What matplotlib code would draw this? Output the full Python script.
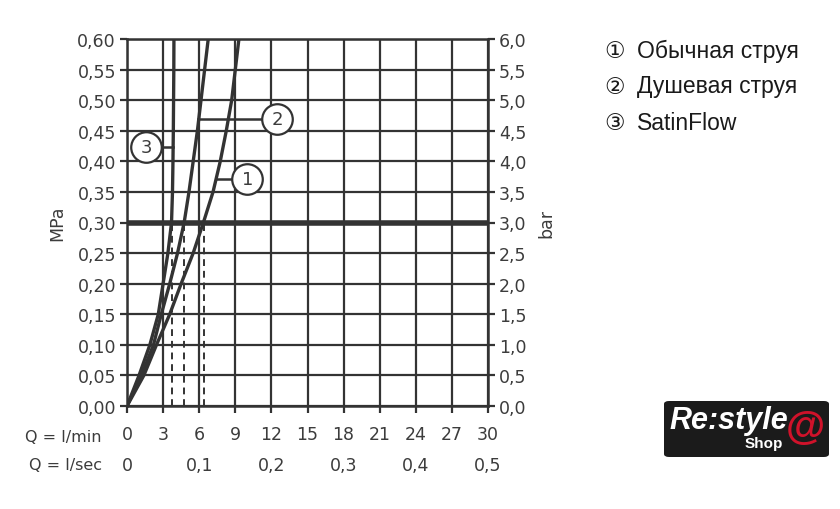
import matplotlib
matplotlib.use("Agg")
import matplotlib.pyplot as plt
from matplotlib.patches import FancyBboxPatch
import matplotlib.transforms as mtransforms

# pressure points (MPa) and flow (l/min)
pressure = [0.00, 0.05, 0.10, 0.15, 0.20, 0.25, 0.30, 0.35, 0.40, 0.45, 0.50, 0.55, 0.60]
flow_normal = [0.0, 1.4, 2.45, 3.55, 4.5, 5.5, 6.35, 7.15, 7.75, 8.25, 8.7, 9.0, 9.3]
flow_shower = [0.0, 1.2, 2.2, 2.85, 3.55, 4.2, 4.75, 5.15, 5.5, 5.85, 6.15, 6.45, 6.75]
flow_satin = [0.0, 1.0, 1.9, 2.6, 3.0, 3.4, 3.7, 3.78, 3.82, 3.85, 3.87, 3.89, 3.9]

ref_pressure = 0.30
ref_flows = [3.75, 4.7, 6.4]

lmin_ticks = [0, 3, 6, 9, 12, 15, 18, 21, 24, 27, 30]
lsec_ticks = [0, 6, 12, 18, 24, 30]
lsec_labels = ["0", "0,1", "0,2", "0,3", "0,4", "0,5"]
mpa_ticks = [i * 0.05 for i in range(13)]
bar_ticks = [i * 0.5 for i in range(13)]

legend_marks = ["①", "②", "③"]
legend_items = ["Обычная струя", "Душевая струя", "SatinFlow"]

# callouts: (number, circle x, circle y, line start x, line end x)
callouts = [
    ("1", 10.0, 0.371, 7.5, 10.0),
    ("2", 12.5, 0.470, 5.9, 12.5),
    ("3", 1.6, 0.423, 1.6, 3.85),
]

dark = "#333333"
txt = "#3c3c3c"

fig = plt.figure(figsize=(8.4, 5.1), dpi=100)
ax = fig.add_axes([127 / 840, 1 - 407 / 510, (488 - 127) / 840, (407 - 40) / 510])

ax.set_xlim(0, 30)
ax.set_ylim(0, 0.60)
ax.set_xticks(lmin_ticks)
ax.set_yticks(mpa_ticks)
ax.grid(True, color=dark, linewidth=1.6)
for s in ax.spines.values():
    s.set_color(dark)
    s.set_linewidth(1.8)

ax.set_yticklabels([f"{v:.2f}".replace(".", ",") for v in mpa_ticks])
ax.set_xticklabels([str(v) for v in lmin_ticks])
ax.tick_params(axis="both", colors=dark, length=5, width=1.6, labelcolor=txt, labelsize=12.5)
ax.tick_params(axis="x", pad=9)
ax.tick_params(axis="y", pad=3)
ax.set_ylabel("MPa", color=txt, fontsize=12.5, labelpad=8)

ax2 = ax.twinx()
ax2.set_ylim(0, 6.0)
ax2.set_yticks(bar_ticks)
ax2.set_yticklabels([f"{v:.1f}".replace(".", ",") for v in bar_ticks])
ax2.tick_params(axis="y", colors=dark, length=5, width=1.6, labelcolor=txt, labelsize=12.5, pad=3)
for s in ax2.spines.values():
    s.set_visible(False)
ax2.set_ylabel("bar", color=txt, fontsize=12.5, labelpad=8)

# curves
for q in (flow_normal, flow_shower, flow_satin):
    ax.plot(q, pressure, color=dark, linewidth=2.4, solid_capstyle="butt",
            solid_joinstyle="round", zorder=4)

# reference pressure line and dashed drops
ax.axhline(ref_pressure, color=dark, linewidth=4.0, zorder=5)
for q in ref_flows:
    ax.plot([q, q], [0, ref_pressure], color=dark, linewidth=1.4,
            linestyle=(0, (3.5, 2.5)), zorder=4)

# callout circles
for num, cx, cy, x0, x1 in callouts:
    ax.plot([x0, x1], [cy, cy], color=dark, linewidth=1.8, zorder=5)
    ax.plot([cx], [cy], marker="o", markersize=22, markerfacecolor="white",
            markeredgecolor=dark, markeredgewidth=1.6, zorder=6, clip_on=False)
    ax.text(cx, cy, num, ha="center", va="center", fontsize=13, color=txt, zorder=7)

# axis row captions
ax.text(-0.07, -0.083, "Q = l/min", transform=ax.transAxes, ha="right", va="center",
        fontsize=11.5, color=txt)
ax.text(-0.07, -0.16, "Q = l/sec", transform=ax.transAxes, ha="right", va="center",
        fontsize=11.5, color=txt)
trans = mtransforms.blended_transform_factory(ax.transData, ax.transAxes)
for x, lab in zip(lsec_ticks, lsec_labels):
    ax.text(x, -0.16, lab, transform=trans, ha="center", va="center",
            fontsize=12.5, color=txt)

# legend on the right
for i, (mark, item) in enumerate(zip(legend_marks, legend_items)):
    y = 1 - (51 + i * 36) / 510
    fig.text(604 / 840, y, mark, ha="left", va="center", fontsize=16.5, color="#1a1a1a",
             family=["DejaVu Sans", "Noto Sans CJK SC"])
    fig.text(637 / 840, y, item, ha="left", va="center", fontsize=16.5, color="#1a1a1a",
             family=["Liberation Sans", "DejaVu Sans"])

# shop logo
logo = FancyBboxPatch((664 / 840, 1 - 458 / 510), 165 / 840, 56 / 510,
                      boxstyle="round,pad=0,rounding_size=0.006",
                      transform=fig.transFigure, facecolor="#1b1b1b", edgecolor="none")
fig.patches.append(logo)
fig.text(669 / 840, 1 - 421 / 510, "Re:style", ha="left", va="center", fontsize=22,
         color="white", style="italic", weight="bold", family="Liberation Sans")
fig.text(764 / 840, 1 - 444 / 510, "Shop", ha="center", va="center", fontsize=11,
         color="white", weight="bold", family="Liberation Sans")
fig.text(805 / 840, 1 - 428 / 510, "@", ha="center", va="center", fontsize=29,
         color="#d0122a", weight="bold", family="Liberation Sans")

fig.savefig("out.png", dpi=100, facecolor="white")
